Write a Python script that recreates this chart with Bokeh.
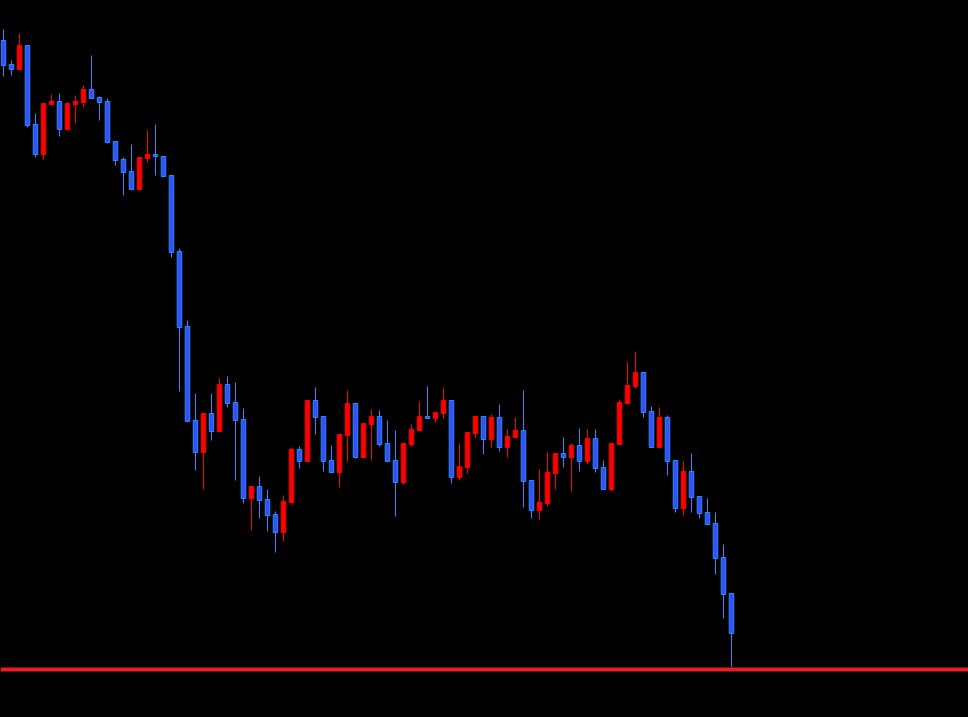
from bokeh.plotting import figure
from bokeh.models import ColumnDataSource, Span, Range1d, GlobalInlineStyleSheet
from bokeh.embed import file_html
from bokeh.resources import INLINE

# OHLC values (price units)
opens = [677, 653, 648, 672, 593, 563, 613, 616, 588, 613, 615, 628, 620, 616, 576, 558,
         546, 528, 559, 563, 561, 542, 466, 391, 297, 265, 304, 286, 333, 315, 298, 219,
         231, 218, 203, 185, 215, 268, 256, 317, 301, 257, 245, 282, 314, 260, 293, 301,
         274, 257, 235, 273, 287, 301, 299, 304, 317, 240, 250, 284, 301, 278, 300, 270,
         280, 287, 237, 207, 214, 244, 264, 260, 272, 256, 279, 250, 228, 273, 314, 331,
         345, 306, 270, 300, 257, 209, 246, 221, 205, 194, 160, 124]
highs = [688, 657, 684, 672, 604, 614, 623, 624, 615, 622, 632, 662, 621, 619, 576, 560,
         573, 560, 587, 593, 561, 542, 469, 397, 324, 304, 324, 339, 341, 335, 309, 231,
         241, 228, 206, 222, 270, 271, 317, 330, 301, 272, 283, 327, 314, 294, 308, 307,
         297, 287, 274, 293, 316, 331, 305, 330, 317, 274, 285, 301, 301, 303, 313, 288,
         300, 327, 237, 248, 265, 264, 280, 274, 289, 288, 288, 257, 274, 318, 355, 366,
         345, 311, 310, 302, 257, 256, 264, 221, 219, 205, 173, 124]
lows = [641, 642, 648, 590, 560, 558, 613, 581, 587, 594, 610, 619, 597, 574, 552, 522,
        528, 528, 555, 542, 541, 460, 326, 296, 247, 228, 277, 286, 310, 237, 214, 187,
        199, 186, 165, 176, 214, 249, 256, 283, 246, 245, 230, 256, 259, 260, 257, 271,
        256, 201, 233, 271, 287, 299, 295, 299, 234, 237, 244, 279, 263, 270, 266, 260,
        279, 210, 199, 198, 211, 228, 250, 226, 246, 253, 245, 228, 226, 273, 313, 329,
        300, 270, 270, 242, 205, 202, 205, 199, 193, 143, 99, 50]
closes = [652, 648, 672, 592, 563, 614, 616, 588, 614, 616, 628, 619, 615, 575, 557, 545,
          528, 560, 563, 561, 541, 465, 390, 296, 265, 304, 286, 333, 314, 297, 219, 231,
          217, 202, 185, 216, 268, 256, 317, 300, 256, 245, 283, 314, 260, 294, 301, 273,
          256, 235, 274, 288, 301, 299, 305, 317, 240, 251, 285, 301, 278, 300, 270, 281,
          287, 236, 207, 215, 245, 264, 260, 272, 256, 279, 249, 228, 274, 315, 332, 345,
          305, 270, 300, 256, 209, 246, 220, 204, 193, 159, 123, 84]
support_level = 48

UP_FILL, UP_LINE = "#ff0000", "#ff0000"
DN_FILL, DN_LINE = "#3b4cff", "#1e90ff"

idx = list(range(len(opens)))
up = [c >= o for o, c in zip(opens, closes)]
src = ColumnDataSource(dict(
    x=idx,
    o=opens, h=highs, l=lows, c=closes,
    top=[max(o, c) for o, c in zip(opens, closes)],
    bot=[min(o, c) for o, c in zip(opens, closes)],
    fill=[UP_FILL if u else DN_FILL for u in up],
    line=[UP_LINE if u else DN_LINE for u in up],
))

W, H = 968, 717
p = figure(width=W, height=H, output_backend="svg", toolbar_location=None,
           x_range=Range1d(-0.375, -0.375 + W / 8.0), y_range=Range1d(0, H),
           background_fill_color="#000000", border_fill_color="#000000",
           min_border=0, min_border_left=0, min_border_right=0,
           min_border_top=0, min_border_bottom=0,
           x_axis_location=None, y_axis_location=None)
p.outline_line_color = None
p.xgrid.visible = False
p.ygrid.visible = False

p.segment(x0="x", y0="l", x1="x", y1="h", line_color="line", line_width=1, source=src)
p.vbar(x="x", top="top", bottom="bot", width=0.56, fill_color="fill",
       line_color="line", line_width=1, source=src)

p.add_layout(Span(location=support_level, dimension="width",
                  line_color="#ee1d23", line_width=4))

p.stylesheets = [GlobalInlineStyleSheet(
    css="html, body { margin: 0 !important; padding: 0; background: #000000; overflow: hidden; }")]

open("out.html", "w").write(file_html(p, INLINE))
